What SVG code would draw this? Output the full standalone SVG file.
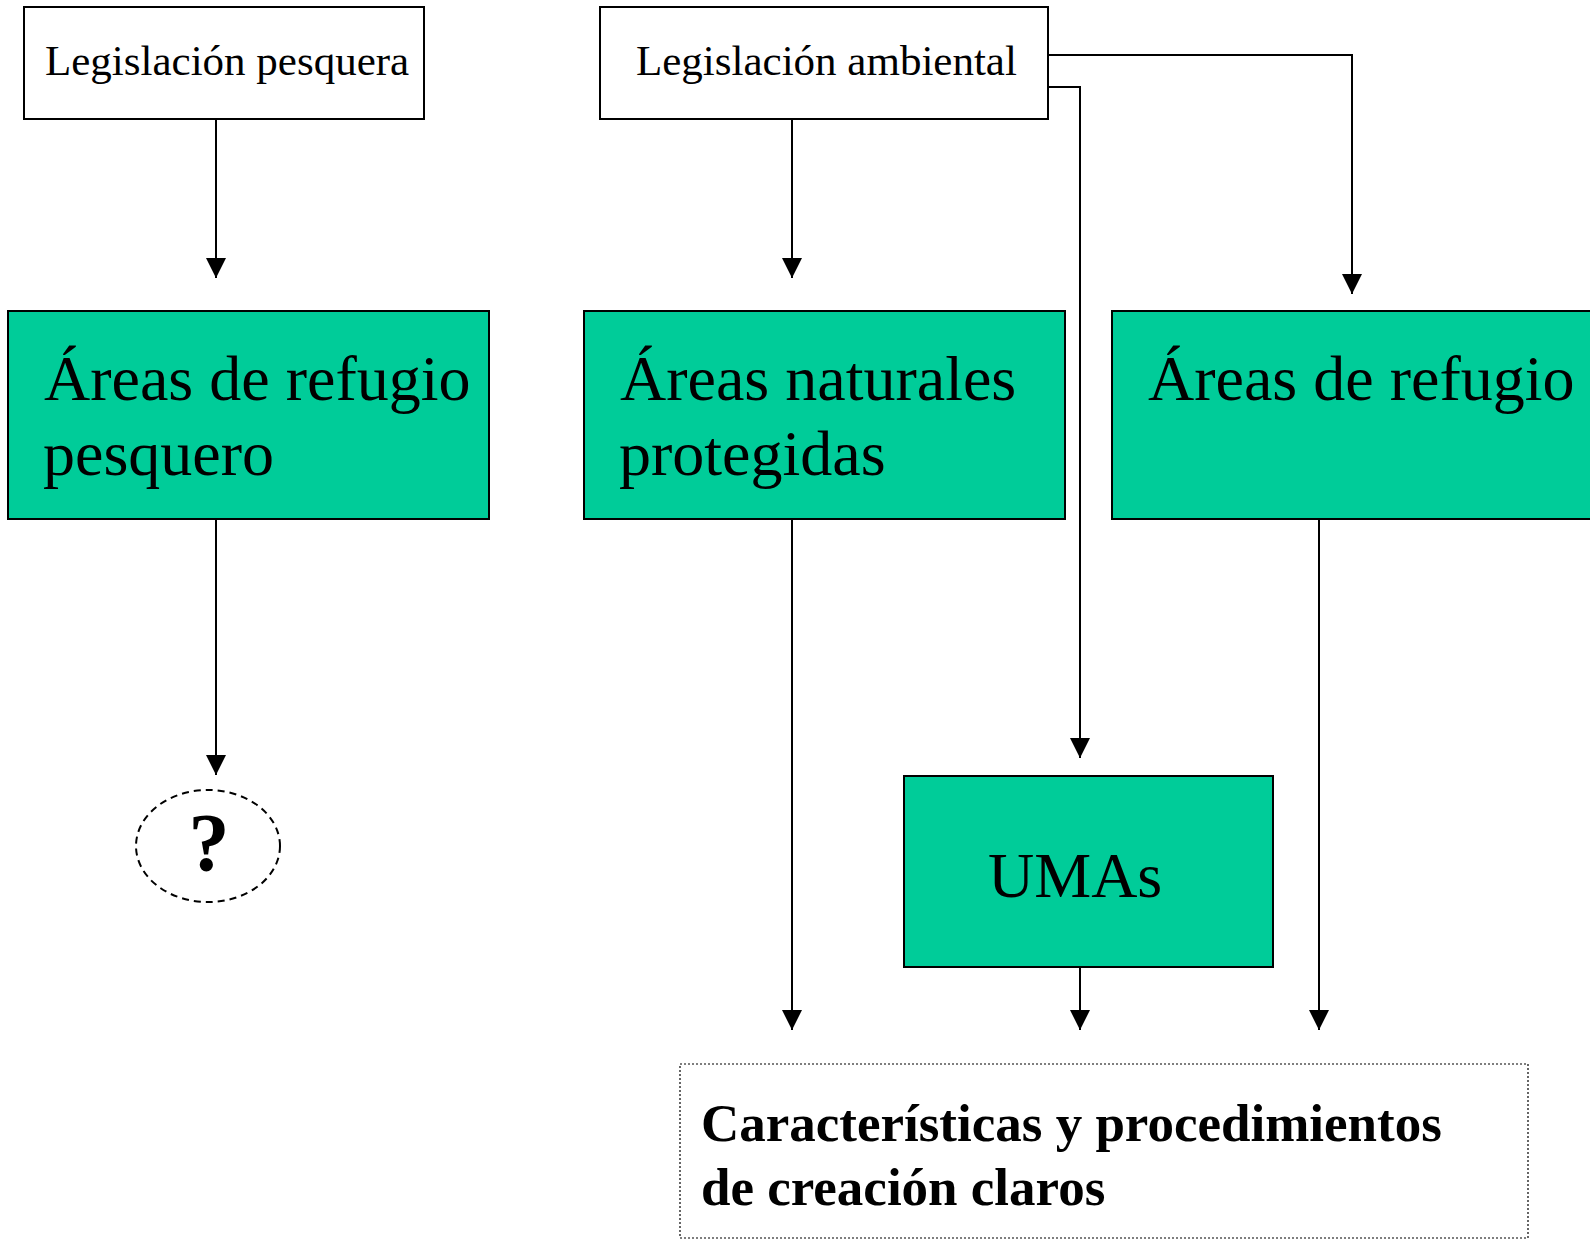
<svg xmlns="http://www.w3.org/2000/svg" width="1590" height="1240" viewBox="0 0 1590 1240">
<style>
.w{fill:#fff;stroke:#000;stroke-width:2}
.g{fill:#00CC99;stroke:#000;stroke-width:2}
.t{font-family:"Liberation Serif","Times New Roman",serif;fill:#000}
.s{font-size:43px}
.b{font-size:64px}
.c{fill:none;stroke:#000;stroke-width:2}
</style>
<defs>
<marker id="ah" markerUnits="userSpaceOnUse" markerWidth="20" markerHeight="20" refX="20" refY="10" orient="auto" viewBox="0 0 20 20">
<path d="M0,0 L20,10 L0,20 z" fill="#000"/>
</marker>
</defs>
<rect width="1590" height="1240" fill="#fff"/>
<g id="connectors">
<path class="c" d="M216,119 V278" marker-end="url(#ah)"/>
<path class="c" d="M792,119 V278" marker-end="url(#ah)"/>
<path class="c" d="M1048,55 H1352 V294" marker-end="url(#ah)"/>
<path class="c" d="M1048,87 H1080 V758" marker-end="url(#ah)"/>
<path class="c" d="M216,519 V775" marker-end="url(#ah)"/>
<path class="c" d="M792,519 V1030" marker-end="url(#ah)"/>
<path class="c" d="M1080,967 V1030" marker-end="url(#ah)"/>
<path class="c" d="M1319,519 V1030" marker-end="url(#ah)"/>
</g>
<g id="leg-pesquera">
<rect class="w" x="24" y="7" width="400" height="112"/>
<text class="t s" x="45" y="75">Legislación pesquera</text>
</g>
<g id="leg-ambiental">
<rect class="w" x="600" y="7" width="448" height="112"/>
<text class="t s" x="636" y="75">Legislación ambiental</text>
</g>
<g id="areas-refugio-pesquero">
<rect class="g" x="8" y="311" width="481" height="208"/>
<text class="t b" x="44" y="400">Áreas de refugio</text>
<text class="t b" x="43" y="475">pesquero</text>
</g>
<g id="anp">
<rect class="g" x="584" y="311" width="481" height="208"/>
<text class="t b" x="620" y="400">Áreas naturales</text>
<text class="t b" x="619" y="475">protegidas</text>
</g>
<g id="areas-refugio">
<rect class="g" x="1112" y="311" width="490" height="208"/>
<text class="t b" x="1148" y="400">Áreas de refugio</text>
</g>
<g id="question">
<ellipse cx="208" cy="846" rx="72" ry="56" fill="none" stroke="#000" stroke-width="2" stroke-dasharray="7,5"/>
<text class="t" x="209" y="870" font-size="82" font-weight="bold" text-anchor="middle">?</text>
</g>
<g id="umas">
<rect class="g" x="904" y="776" width="369" height="191"/>
<text class="t b" x="988" y="897">UMAs</text>
</g>
<g id="caracteristicas">
<rect x="680" y="1064" width="848" height="174" fill="none" stroke="#000" stroke-width="1.2" stroke-dasharray="2,2"/>
<text class="t" font-size="53" font-weight="bold" x="701" y="1141">Características y procedimientos</text>
<text class="t" font-size="53" font-weight="bold" x="701" y="1205">de creación claros</text>
</g>
</svg>
